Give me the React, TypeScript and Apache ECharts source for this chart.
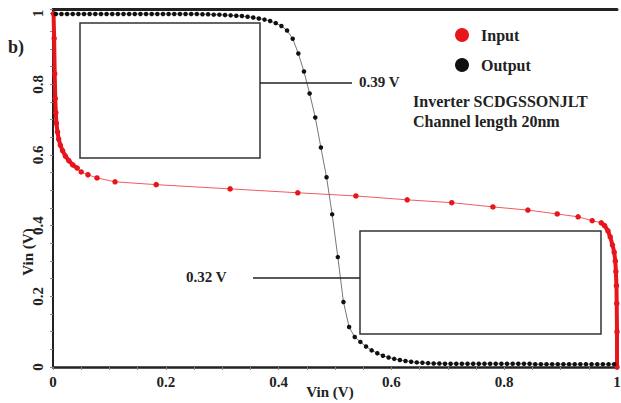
import React, { useEffect, useRef } from "react";
import * as echarts from "echarts";

// Input curve (red): steep left part, dotted middle part, steep right part
const inputLeftX = [0.001, 0.002, 0.003, 0.004, 0.005, 0.006, 0.008, 0.010, 0.013, 0.017, 0.022, 0.028, 0.035, 0.043];
const inputLeftY = [1.0, 0.93, 0.83, 0.76, 0.72, 0.69, 0.665, 0.645, 0.628, 0.612, 0.597, 0.584, 0.572, 0.563];
const inputMidX = [0.050, 0.062, 0.078, 0.110, 0.183, 0.314, 0.434, 0.537, 0.628, 0.707, 0.780, 0.842, 0.894, 0.931, 0.956, 0.972];
const inputMidY = [0.552, 0.544, 0.535, 0.524, 0.516, 0.504, 0.493, 0.484, 0.473, 0.465, 0.453, 0.444, 0.433, 0.425, 0.414, 0.408];
const inputRightX = [0.972, 0.978, 0.984, 0.988, 0.992, 0.995, 0.997, 0.998, 0.999, 0.9995, 1.0, 1.0];
const inputRightY = [0.408, 0.400, 0.385, 0.368, 0.345, 0.325, 0.30, 0.27, 0.23, 0.18, 0.10, 0.0];

// Output curve (black)
const outputX = [
  0.005, 0.015, 0.025, 0.035, 0.045, 0.055, 0.065, 0.075, 0.085, 0.095,
  0.105, 0.115, 0.125, 0.135, 0.145, 0.155, 0.165, 0.175, 0.185, 0.195,
  0.205, 0.215, 0.225, 0.235, 0.245, 0.255, 0.265, 0.275, 0.285, 0.295,
  0.305, 0.315, 0.325, 0.335, 0.345, 0.355, 0.365, 0.375, 0.385, 0.395,
  0.405, 0.415, 0.425, 0.435, 0.445, 0.455, 0.465, 0.475, 0.485, 0.495,
  0.505, 0.515, 0.525, 0.535, 0.545, 0.555, 0.565, 0.575, 0.585, 0.595,
  0.605, 0.615, 0.625, 0.635, 0.645, 0.655, 0.665, 0.675, 0.685, 0.695,
  0.705, 0.715, 0.725, 0.735, 0.745, 0.755, 0.765, 0.775, 0.785, 0.795,
  0.805, 0.815, 0.825, 0.835, 0.845, 0.855, 0.865, 0.875, 0.885, 0.895,
  0.905, 0.915, 0.925, 0.935, 0.945, 0.955, 0.965, 0.975, 0.985, 0.995,
];
const outputY = [
  0.999, 0.999, 0.999, 0.999, 0.999, 0.999, 0.999, 0.999, 0.999, 0.999,
  0.999, 0.999, 0.999, 0.999, 0.999, 0.999, 0.999, 0.999, 0.999, 0.999,
  0.999, 0.999, 0.999, 0.999, 0.999, 0.999, 0.998, 0.998, 0.997, 0.997,
  0.996, 0.995, 0.994, 0.993, 0.991, 0.989, 0.986, 0.983, 0.979, 0.973,
  0.965, 0.952, 0.929, 0.887, 0.836, 0.774, 0.706, 0.621, 0.537, 0.432,
  0.311, 0.184, 0.113, 0.085, 0.071, 0.058, 0.047, 0.039, 0.032, 0.027,
  0.023, 0.020, 0.017, 0.015, 0.013, 0.012, 0.011, 0.010, 0.010, 0.009,
  0.009, 0.009, 0.009, 0.009, 0.009, 0.009, 0.009, 0.009, 0.009, 0.009,
  0.009, 0.009, 0.009, 0.009, 0.009, 0.008, 0.008, 0.008, 0.008, 0.008,
  0.008, 0.008, 0.008, 0.008, 0.008, 0.008, 0.008, 0.008, 0.008, 0.008,
];

const xTicks = [0, 0.2, 0.4, 0.6, 0.8, 1];
const yTicks = [0, 0.2, 0.4, 0.6, 0.8, 1];

const RED = "#e8151b";
const BLACK = "#111111";
const FONT = "'Liberation Serif', 'Times New Roman', serif";

const zip = (xs: number[], ys: number[]) => xs.map((x, i) => [x, ys[i]]);

export default function App() {
  const ref = useRef<HTMLDivElement>(null);
  useEffect(() => {
    if (!ref.current) return;
    const chart = echarts.init(ref.current, undefined, { renderer: "svg" });
    const inputAll = [
      ...zip(inputLeftX, inputLeftY),
      ...zip(inputMidX, inputMidY),
      ...zip(inputRightX, inputRightY).slice(1),
    ];
    const isTick = (v: number, ticks: number[]) => ticks.some((t) => Math.abs(t - v) < 1e-6);
    const labelStyle = { fontFamily: FONT, fontWeight: "bold" as const, fontSize: 15, color: "#222" };
    const textStyle = { fontFamily: FONT, fontWeight: "bold", fill: "#222" };
    chart.setOption({
      animation: false,
      backgroundColor: "#fff",
      grid: { left: 53, top: 9, right: 4, bottom: 36, containLabel: false, outerBoundsMode: "none" },
      legend: {
        orient: "vertical",
        left: 450,
        top: 22,
        itemWidth: 14,
        itemHeight: 14,
        itemGap: 14,
        icon: "circle",
        data: [
          { name: "Input", itemStyle: { color: RED } },
          { name: "Output", itemStyle: { color: BLACK } },
        ],
        textStyle: { fontFamily: FONT, fontWeight: "bold", fontSize: 16, color: "#222", padding: [0, 0, 0, 7] },
      },
      xAxis: [
        {
          type: "value",
          min: 0,
          max: 1,
          interval: 0.2,
          name: "Vin (V)",
          nameLocation: "middle",
          nameGap: 17,
          nameMoveOverlap: false,
          nameTextStyle: { fontFamily: FONT, fontWeight: "bold", fontSize: 15, color: "#222", padding: [0, 10, 0, 0] },
          axisLine: { show: true, lineStyle: { color: "#222", width: 2.5 } },
          axisTick: { show: true, length: 3, lineStyle: { color: "#888" } },
          minorTick: { show: true, splitNumber: 4, length: 3, lineStyle: { color: "#888" } },
          splitLine: { show: false },
          axisLabel: {
            ...labelStyle,
            margin: 7,
            formatter: (v: number) => (isTick(v, xTicks) ? String(v) : ""),
          },
        },
        {
          type: "value",
          position: "top",
          min: 0,
          max: 1,
          axisLine: { show: true, lineStyle: { color: "#222", width: 3 } },
          axisTick: { show: false },
          axisLabel: { show: false },
          splitLine: { show: false },
        },
      ],
      yAxis: {
        type: "value",
        min: 0,
        max: 1.013,
        interval: 0.2,
        axisLine: { show: true, lineStyle: { color: "#222", width: 2 } },
        axisTick: { show: true, length: 3, lineStyle: { color: "#888" } },
        minorTick: { show: true, splitNumber: 4, length: 3, lineStyle: { color: "#888" } },
        splitLine: { show: false },
        axisLabel: {
          ...labelStyle,
          rotate: 90,
          margin: 8,
          showMaxLabel: false,
          formatter: (v: number) => (isTick(v, yTicks) ? String(v) : ""),
        },
      },
      graphic: [
        { type: "text", left: 8, top: 38, style: { ...textStyle, text: "b)", fontSize: 18 } },
        {
          type: "rect",
          shape: { x: 80, y: 23, width: 180, height: 135 },
          style: { fill: "rgba(255,255,255,0)", stroke: "#333", lineWidth: 1.5 },
          z: 10,
        },
        { type: "line", shape: { x1: 260, y1: 83, x2: 352, y2: 83 }, style: { stroke: "#222", lineWidth: 1.5 }, z: 10 },
        { type: "text", x: 359, y: 82, style: { ...textStyle, text: "0.39 V", fontSize: 15, verticalAlign: "middle" }, z: 10 },
        {
          type: "rect",
          shape: { x: 360, y: 231, width: 241, height: 103 },
          style: { fill: "rgba(255,255,255,0)", stroke: "#333", lineWidth: 1.5 },
          z: 10,
        },
        { type: "line", shape: { x1: 253, y1: 278, x2: 360, y2: 278 }, style: { stroke: "#222", lineWidth: 1.5 }, z: 10 },
        { type: "text", x: 186, y: 277, style: { ...textStyle, text: "0.32 V", fontSize: 15, verticalAlign: "middle" }, z: 10 },
        { type: "text", x: 413, y: 101, style: { ...textStyle, text: "Inverter SCDGSSONJLT", fontSize: 16, verticalAlign: "middle" }, z: 10 },
        { type: "text", x: 413, y: 121, style: { ...textStyle, text: "Channel length 20nm", fontSize: 16, verticalAlign: "middle" }, z: 10 },
        {
          type: "text",
          x: 28,
          y: 252,
          rotation: Math.PI / 2,
          style: { ...textStyle, text: "Vin (V)", fontSize: 15, align: "center", verticalAlign: "middle" },
          z: 10,
        },
      ],
      series: [
        {
          name: "Input",
          type: "line",
          data: inputAll,
          clip: false,
          symbol: "circle",
          symbolSize: 5.5,
          itemStyle: { color: RED },
          lineStyle: { color: RED, width: 1, opacity: 0.7 },
          z: 3,
        },
        {
          name: "InputEdgeLeft",
          type: "line",
          data: zip(inputLeftX, inputLeftY),
          clip: false,
          showSymbol: false,
          symbol: "none",
          lineStyle: { color: RED, width: 4 },
          z: 3,
        },
        {
          name: "InputEdgeRight",
          type: "line",
          data: zip(inputRightX, inputRightY),
          clip: false,
          showSymbol: false,
          symbol: "none",
          lineStyle: { color: RED, width: 4 },
          z: 3,
        },
        {
          name: "Output",
          type: "line",
          data: zip(outputX, outputY),
          clip: false,
          symbol: "circle",
          symbolSize: 4.5,
          itemStyle: { color: BLACK },
          lineStyle: { color: "#777", width: 1 },
          z: 4,
        },
      ],
    });
    return () => chart.dispose();
  }, []);
  return <div ref={ref} style={{ position: "fixed", left: 0, top: 0, width: 621, height: 403 }} />;
}
